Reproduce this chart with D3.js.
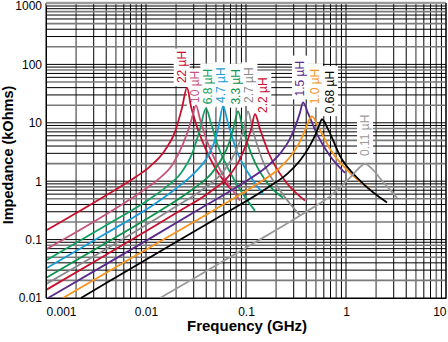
<!DOCTYPE html>
<html><head><meta charset="utf-8">
<script src="https://cdn.jsdelivr.net/npm/d3@7"></script>
<style>
body{margin:0;background:#fff}
svg{display:block}
text{font-family:"Liberation Sans",Arial,Helvetica,sans-serif}
</style>
</head><body>
<svg id="chart" width="448" height="342"></svg>
<script>
// ---- data (frequency in GHz, impedance in kOhms) ----
const seriesNames = ["22 µH","10 µH","6.8 µH","4.7 µH","3.3 µH","2.7 µH","2.2 µH","1.5 µH","1.0 µH","0.68 µH","0.11 µH"];
const z22 = [[0.001,0.143],[0.004,0.575],[0.008,1.2],[0.011,1.8],[0.0155,3.4],[0.0195,7.0],[0.0229,18],[0.0257,40],[0.0282,19],[0.0324,8.5],[0.0389,3.8],[0.049,1.7],[0.0692,0.75]];
const z10 = [[0.001,0.068],[0.004,0.272],[0.009,0.66],[0.013,1.05],[0.0185,1.95],[0.0234,4.3],[0.0282,10.5],[0.0316,19.9],[0.0347,11.5],[0.0407,4.9],[0.0525,1.83],[0.0871,0.465]];
const z68 = [[0.001,0.044],[0.004,0.176],[0.011,0.5],[0.016,0.8],[0.0225,1.4],[0.0288,2.9],[0.0345,7.5],[0.0398,17.7],[0.0447,9.8],[0.0525,4.0],[0.0724,1.24],[0.123,0.31]];
const z47 = [[0.001,0.032],[0.004,0.128],[0.012,0.4],[0.02,0.75],[0.03,1.35],[0.04,2.4],[0.048,4.6],[0.0535,9.0],[0.0589,19.1],[0.0661,9.8],[0.0794,3.56],[0.1096,1.24],[0.148,0.61]];
const z33 = [[0.001,0.022],[0.004,0.088],[0.015,0.34],[0.03,0.75],[0.045,1.35],[0.057,2.4],[0.068,4.6],[0.076,9.0],[0.0832,15.7],[0.0933,7.8],[0.115,2.7],[0.166,0.9],[0.234,0.52]];
const z27 = [[0.001,0.0173],[0.004,0.069],[0.018,0.33],[0.038,0.75],[0.057,1.35],[0.072,2.4],[0.086,4.6],[0.096,8.5],[0.1047,15.7],[0.1175,7.2],[0.1445,2.4],[0.219,0.69],[0.347,0.26]];
const z22b = [[0.001,0.0137],[0.004,0.055],[0.02,0.285],[0.045,0.68],[0.068,1.25],[0.086,2.3],[0.101,4.4],[0.113,8.0],[0.123,14],[0.138,7.8],[0.174,2.7],[0.245,1.02],[0.389,0.465]];
const z15 = [[0.00105,0.01],[0.004,0.038],[0.011,0.105],[0.04,0.39],[0.1,1.0],[0.16,1.75],[0.22,3.0],[0.27,5.0],[0.31,8.5],[0.345,14.5],[0.372,22.4],[0.417,14.6],[0.525,5.9],[0.692,2.7],[0.977,1.39]];
const z10b = [[0.00148,0.01],[0.004,0.027],[0.011,0.074],[0.05,0.335],[0.13,0.9],[0.21,1.6],[0.28,2.7],[0.34,4.5],[0.39,7.5],[0.425,11],[0.457,12.9],[0.525,8.75],[0.692,3.56],[1.096,1.39],[1.74,0.74]];
const z068 = [[0.00224,0.01],[0.004,0.018],[0.011,0.05],[0.05,0.228],[0.16,0.75],[0.26,1.35],[0.35,2.3],[0.43,3.9],[0.5,6.5],[0.545,9.5],[0.575,11.5],[0.661,7.8],[0.871,2.7],[1.38,1.02],[2.57,0.43]];
const z011 = [[0.0138,0.01],[0.03,0.0216],[0.11,0.08],[0.4,0.3],[0.7,0.56],[0.977,0.95],[1.2,1.35],[1.38,1.75],[1.55,1.98],[1.82,1.63],[2.29,1.02],[3.24,0.52]];
// label anchor (bottom of rotated label) in data units
const labelFreq = [0.02275,0.0309,0.042,0.0562,0.0794,0.108,0.149,0.347,0.49,0.692,1.55];
const labelImp  = [47.8,21.8,20.7,21.8,20.5,21.8,14.7,28.3,20.7,14.6,2.7];
const xTicks = [0.001,0.01,0.1,1,10];
const xTickLabels = ["0.001","0.01","0.1","1","10"];
const yTicks = [0.01,0.1,1,10,100,1000];
const yTickLabels = ["0.01","0.1","1","10","100","1000"];

const allSeries = [z22,z10,z68,z47,z33,z27,z22b,z15,z10b,z068,z011];
const colors = ["#c8102e","#c4557d","#14a064","#1a9cd8","#0e9250","#8a8a8a","#c8102e","#5a2a8c","#f7941d","#000000","#9a9a9a"];

// ---- layout ----
const svg = d3.select("#chart");
const x = d3.scaleLog().domain([0.001,10]).range([46,446]);
const y = d3.scaleLog().domain([0.01,1000]).range([298,6]);

// grid
const minorX = [], minorY = [];
for (let d=-3; d<1; d++) for (let k=1;k<10;k++) minorX.push(k*Math.pow(10,d));
minorX.push(10);
for (let d=-2; d<3; d++) for (let k=1;k<10;k++) minorY.push(k*Math.pow(10,d));
minorY.push(1000);

const grid = svg.append("g");
grid.selectAll("line.vg").data(minorX).enter().append("line")
  .attr("x1",d=>x(d)).attr("x2",d=>x(d)).attr("y1",y(1000)-3).attr("y2",y(0.01))
  .attr("stroke",(d,i)=> (i%3===1) ? "#7a7a7a" : "#000").attr("stroke-width",(d,i)=>(i%3===1)?1.6:1);
grid.selectAll("line.hg").data(minorY).enter().append("line")
  .attr("y1",d=>y(d)).attr("y2",d=>y(d)).attr("x1",x(0.001)).attr("x2",x(10))
  .attr("stroke",(d,i)=> (i%3===1) ? "#7a7a7a" : "#000").attr("stroke-width",(d,i)=>(i%3===1)?1.6:1);
// top band
svg.append("line").attr("x1",x(0.001)).attr("x2",x(10)).attr("y1",y(1000)-3).attr("y2",y(1000)-3)
  .attr("stroke","#9a9a9a").attr("stroke-width",2.5);

// white boxes behind labels
const fs = 12;
const labelSel = svg.append("g");
seriesNames.forEach((t,i)=>{
  const cx = x(labelFreq[i]), by = y(labelImp[i]);
  const len = t.length*6.3;
  labelSel.append("rect").attr("x",cx-8).attr("y",by-len-3).attr("width",16).attr("height",len+6).attr("fill","#fff");
});

// curves
const line = d3.line().x(d=>x(d[0])).y(d=>y(d[1])).curve(d3.curveMonotoneX);
allSeries.forEach((s,i)=>{
  svg.append("path").attr("d",line(s)).attr("fill","none").attr("stroke",colors[i])
    .attr("stroke-width",1.8).attr("stroke-linejoin","round");
});

// labels
seriesNames.forEach((t,i)=>{
  const cx = x(labelFreq[i]), by = y(labelImp[i]);
  svg.append("text").attr("transform",`translate(${cx},${by}) rotate(-90)`)
    .attr("dominant-baseline","central").attr("font-size",fs).attr("fill",colors[i]).text(t);
});

// axes
const xa = svg.append("g").attr("transform","translate(0,298)")
  .call(d3.axisBottom(x).tickValues(xTicks).tickFormat((d,i)=>xTickLabels[i]).tickSize(0).tickPadding(9));
xa.select(".domain").attr("stroke","#000");
xa.selectAll("text").attr("font-size",12).attr("fill","#000").style("font-family","'Liberation Sans',Arial,sans-serif")
  .attr("text-anchor",(d,i)=> i===0 ? "start" : (i===xTicks.length-1 ? "end" : "middle"));
const ya = svg.append("g").attr("transform","translate(46,0)")
  .call(d3.axisLeft(y).tickValues(yTicks).tickFormat((d,i)=>yTickLabels[i]).tickSize(0).tickPadding(4));
ya.select(".domain").attr("stroke","#000");
ya.selectAll("text").attr("font-size",12).attr("fill","#000").style("font-family","'Liberation Sans',Arial,sans-serif");
svg.append("line").attr("x1",446).attr("x2",446).attr("y1",y(1000)-3).attr("y2",298).attr("stroke","#000");

svg.append("text").attr("x",247).attr("y",331).attr("text-anchor","middle")
  .attr("font-size",15).attr("font-weight","bold").text("Frequency (GHz)");
svg.append("text").attr("transform","translate(13,155) rotate(-90)").attr("text-anchor","middle")
  .attr("font-size",14.5).attr("font-weight","bold").text("Impedance (kOhms)");
</script>
</body></html>
